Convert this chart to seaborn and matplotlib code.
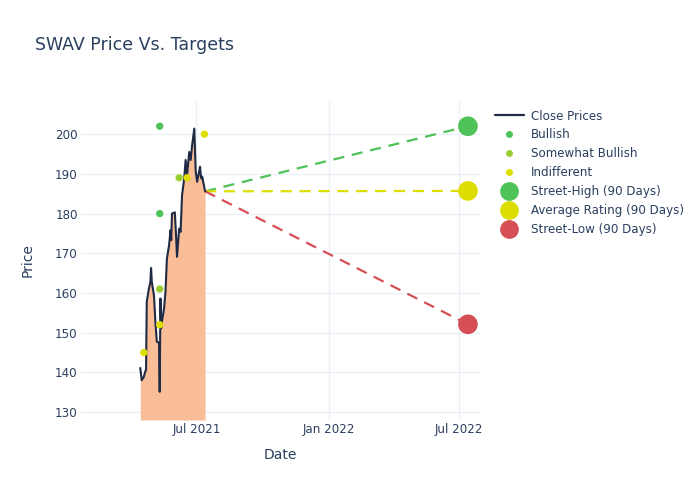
import pandas as pd
import numpy as np
import matplotlib.pyplot as plt
import matplotlib.dates as mdates
from matplotlib.lines import Line2D
import seaborn as sns

# ── Data ─────────────────────────────────────────────────────────────────────
close_dates = ['2021-04-14', '2021-04-16', '2021-04-19', '2021-04-21', '2021-04-22',
               '2021-04-23', '2021-04-26', '2021-04-28', '2021-04-29', '2021-04-30',
               '2021-05-03', '2021-05-05', '2021-05-07', '2021-05-10', '2021-05-11',
               '2021-05-12', '2021-05-13', '2021-05-14', '2021-05-17', '2021-05-19',
               '2021-05-21', '2021-05-24', '2021-05-26', '2021-05-27', '2021-05-28',
               '2021-06-01', '2021-06-03', '2021-06-04', '2021-06-07', '2021-06-09',
               '2021-06-11', '2021-06-14', '2021-06-16', '2021-06-18', '2021-06-21',
               '2021-06-23', '2021-06-25', '2021-06-28', '2021-06-30', '2021-07-02',
               '2021-07-06', '2021-07-07', '2021-07-08', '2021-07-09', '2021-07-13']
close_prices = [141.1, 138.0, 138.9, 140.3, 140.5,
                157.8, 161.1, 162.7, 166.3, 162.8,
                159.4, 152.7, 147.7, 147.5, 135.1,
                158.6, 151.1, 152.7, 156.1, 160.3,
                168.7, 172.0, 175.8, 173.3, 180.0,
                180.3, 173.3, 169.1, 176.2, 175.4,
                184.6, 188.8, 193.5, 189.7, 195.5,
                193.5, 197.2, 201.4, 190.5, 188.0,
                191.8, 189.7, 188.8, 189.3, 185.6]

rating_dates = ['2021-05-11', '2021-05-11', '2021-05-11', '2021-05-11',
                '2021-04-19', '2021-06-07', '2021-06-18', '2021-07-12']
rating_prices = [202, 180, 161, 152, 145, 189, 189, 200]
rating_types = ['Bullish', 'Bullish', 'Somewhat Bullish', 'Indifferent',
                'Indifferent', 'Somewhat Bullish', 'Indifferent', 'Indifferent']

target_date = '2022-07-13'
target_labels = ['Street-High (90 Days)', 'Average Rating (90 Days)', 'Street-Low (90 Days)']
target_values = [202.0, 185.7, 152.1]

# ── Style ────────────────────────────────────────────────────────────────────
TEXT = '#2a3f5f'
GREEN = '#4fc25a'
LIME = '#9acd32'
YELLOW = '#dddd00'
RED = '#d64f55'
NAVY = '#1f2a44'
FILL = '#f9bd97'

sns.set_theme(style='whitegrid')
plt.rcParams.update({
    'font.family': ['DejaVu Sans'],
    'text.color': TEXT,
    'axes.labelcolor': TEXT,
    'xtick.color': TEXT,
    'ytick.color': TEXT,
    'grid.color': '#ebf0f8',
    'grid.linewidth': 1.0,
})

df_close = pd.DataFrame({'date': pd.to_datetime(close_dates), 'price': close_prices})
df_rate = pd.DataFrame({'date': pd.to_datetime(rating_dates), 'price': rating_prices,
                        'rating': rating_types})
last_date = df_close['date'].iloc[-1]
last_price = df_close['price'].iloc[-1]
t_date = pd.to_datetime(target_date)

fig = plt.figure(figsize=(7, 5), dpi=100)
ax = fig.add_axes([0.115, 0.16, 0.572, 0.64])

ymin = 128
ax.fill_between(df_close['date'], df_close['price'], ymin, color=FILL, lw=0, zorder=1)
sns.lineplot(data=df_close, x='date', y='price', color=NAVY, lw=1.5, ax=ax, zorder=3)

rating_palette = {'Bullish': GREEN, 'Somewhat Bullish': LIME, 'Indifferent': YELLOW}
sns.scatterplot(data=df_rate, x='date', y='price', hue='rating', palette=rating_palette,
                s=28, edgecolor='none', legend=False, ax=ax, zorder=4)

target_colors = [GREEN, YELLOW, RED]
for val, col in zip(target_values, target_colors):
    ax.plot([last_date, t_date], [last_price, val], ls=(0, (5, 3.5)), color=col, lw=1.6, zorder=2)
    ax.scatter([t_date], [val], s=200, color=col, edgecolor='none', zorder=5)

ax.set_xlim(pd.Timestamp('2021-01-21'), pd.Timestamp('2022-07-31'))
ax.set_ylim(ymin, 208.6)
ax.set_yticks(np.arange(130, 201, 10))
ax.xaxis.set_major_locator(mdates.MonthLocator(bymonth=[1, 7]))
ax.xaxis.set_major_formatter(mdates.DateFormatter('%b %Y'))
ax.tick_params(axis='both', length=0, labelsize=8.6)
ax.tick_params(axis='x', pad=2)
ax.tick_params(axis='y', pad=2)
for s in ax.spines.values():
    s.set_visible(False)
ax.set_xlabel('Date', fontsize=10, labelpad=9)
ax.set_ylabel('Price', fontsize=10, labelpad=15)

fig.text(0.05, 0.9, 'SWAV Price Vs. Targets', fontsize=12.5, color=TEXT)

handles = [
    Line2D([], [], color=NAVY, lw=1.6),
    Line2D([], [], ls='', marker='o', ms=5, color=GREEN, mec='none'),
    Line2D([], [], ls='', marker='o', ms=5, color=LIME, mec='none'),
    Line2D([], [], ls='', marker='o', ms=5, color=YELLOW, mec='none'),
    Line2D([], [], ls='', marker='o', ms=13.5, color=GREEN, mec='none'),
    Line2D([], [], ls='', marker='o', ms=13.5, color=YELLOW, mec='none'),
    Line2D([], [], ls='', marker='o', ms=13.5, color=RED, mec='none'),
]
labels = ['Close Prices', 'Bullish', 'Somewhat Bullish', 'Indifferent'] + target_labels
fig.legend(handles, labels, loc='upper left', bbox_to_anchor=(0.707, 0.781), frameon=False,
           fontsize=8.6, labelspacing=0.5, handlelength=2.4, handletextpad=0.6,
           borderaxespad=0, borderpad=0)

fig.savefig('out.png', dpi=100, facecolor='white')
